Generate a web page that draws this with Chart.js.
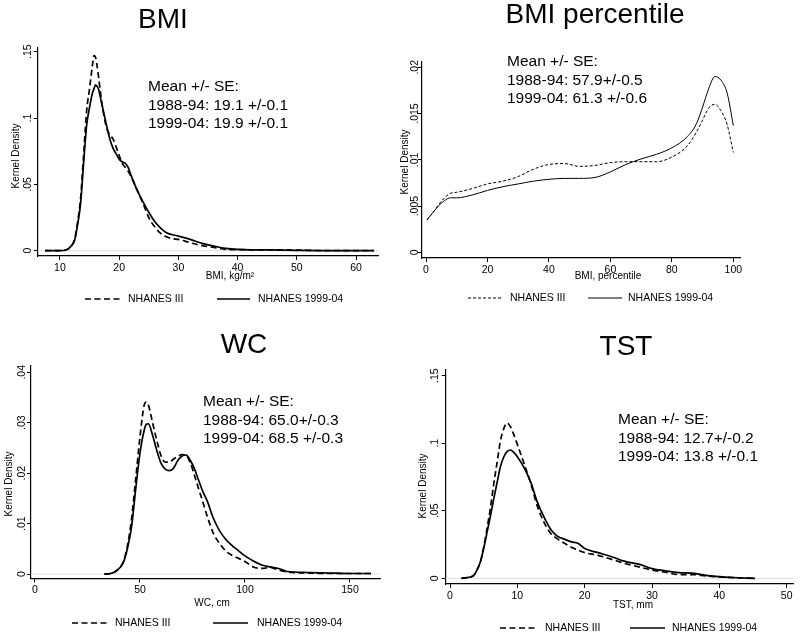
<!DOCTYPE html>
<html>
<head>
<meta charset="utf-8">
<script src="https://cdn.jsdelivr.net/npm/chart.js@4.4.1/dist/chart.umd.min.js"></script>
<style>
  body { margin: 0; background: #fff; }
  #wrap { position: relative; width: 800px; height: 636px; }
  canvas { position: absolute; }
</style>
</head>
<body>
<div id="wrap">
  <canvas id="c1" width="400" height="318" style="left:0;top:0;width:400px;height:318px"></canvas>
  <canvas id="c2" width="400" height="318" style="left:400px;top:0;width:400px;height:318px"></canvas>
  <canvas id="c3" width="400" height="318" style="left:0;top:318px;width:400px;height:318px"></canvas>
  <canvas id="c4" width="400" height="318" style="left:400px;top:318px;width:400px;height:318px"></canvas>
</div>
<script>
// series names
const seriesLabels = ['NHANES III', 'NHANES 1999-04'];

// BMI, kg/m2
const bmiX    = [7.5, 10, 11, 12, 12.5, 13, 13.5, 14, 14.5, 15, 15.5, 15.75, 16, 16.25, 16.5, 17, 17.5, 18, 18.5, 19, 19.5, 20, 20.5, 21, 21.5, 22, 23, 24, 25, 26, 27, 28, 29, 30, 32, 34, 36, 38, 40, 45, 50, 55, 63];
const bmiIII  = [0, 0, 0.0005, 0.004, 0.009, 0.022, 0.04, 0.072, 0.105, 0.122, 0.14, 0.147, 0.146, 0.14, 0.132, 0.114, 0.1, 0.091, 0.087, 0.084, 0.078, 0.072, 0.066, 0.063, 0.06, 0.056, 0.046, 0.036, 0.025, 0.018, 0.013, 0.0105, 0.009, 0.0085, 0.006, 0.0038, 0.0025, 0.001, 0.0008, 0.0006, 0.0005, 0, 0];
const bmi9904 = [0, 0, 0.0005, 0.004, 0.008, 0.02, 0.036, 0.066, 0.094, 0.108, 0.119, 0.122, 0.125, 0.124, 0.122, 0.112, 0.102, 0.092, 0.083, 0.077, 0.073, 0.069, 0.067, 0.066, 0.063, 0.057, 0.046, 0.037, 0.029, 0.022, 0.017, 0.0135, 0.012, 0.011, 0.0085, 0.0055, 0.0035, 0.0018, 0.001, 0.0006, 0.0003, 0.0001, 0];
const bmiXTicks = [10, 20, 30, 40, 50, 60];
const bmiYTicks = [0, 0.05, 0.1, 0.15];

// BMI percentile
const pctX    = [0.3, 2, 4, 6, 8, 10, 15, 20, 25, 30, 35, 40, 45, 50, 55, 60, 65, 70, 75, 80, 85, 88, 90, 92, 94, 96, 98, 100];
const pctIII  = [0.0035, 0.0042, 0.0051, 0.0059, 0.0064, 0.0065, 0.0069, 0.0074, 0.0077, 0.0082, 0.009, 0.0095, 0.0096, 0.0093, 0.0094, 0.0097, 0.0098, 0.0098, 0.0098, 0.0103, 0.0115, 0.013, 0.0143, 0.0156, 0.016, 0.0153, 0.0138, 0.0108];
const pct9904 = [0.0035, 0.0042, 0.005, 0.0056, 0.0059, 0.0059, 0.0062, 0.0067, 0.0071, 0.0074, 0.0077, 0.0079, 0.008, 0.008, 0.0081, 0.0087, 0.0095, 0.0101, 0.0106, 0.0113, 0.0125, 0.0139, 0.0157, 0.0177, 0.019, 0.0186, 0.0172, 0.0137];
const pctXTicks = [0, 20, 40, 60, 80, 100];
const pctYTicks = [0, 0.005, 0.01, 0.015, 0.02];

// WC, cm
const wcX    = [33, 36, 39, 42, 44, 46, 48, 50, 52, 53, 54, 56, 58, 60, 62, 64, 66, 68, 70, 72, 74, 76, 78, 80, 82, 85, 88, 91, 94, 97, 100, 104, 108, 112, 116, 120, 130, 140, 150, 160];
const wcIII  = [0, 0.0001, 0.0007, 0.0024, 0.0055, 0.011, 0.019, 0.0272, 0.0335, 0.0341, 0.0335, 0.03, 0.0265, 0.0235, 0.0222, 0.0222, 0.0228, 0.0233, 0.0237, 0.0235, 0.022, 0.0195, 0.0168, 0.0142, 0.0115, 0.008, 0.006, 0.0045, 0.0037, 0.0031, 0.0025, 0.0014, 0.0011, 0.0013, 0.0008, 0.0004, 0.0002, 0.0001, 0.0001, 0.0001];
const wc9904 = [0, 0.0001, 0.0007, 0.0022, 0.005, 0.0094, 0.017, 0.024, 0.0285, 0.0297, 0.0298, 0.0275, 0.0245, 0.022, 0.0208, 0.0205, 0.021, 0.0225, 0.0234, 0.0236, 0.0225, 0.0208, 0.0185, 0.0163, 0.0145, 0.011, 0.0085, 0.0068, 0.0056, 0.0046, 0.0036, 0.0026, 0.0018, 0.0014, 0.0011, 0.0005, 0.0003, 0.0002, 0.0001, 0.0001];
const wcXTicks = [0, 50, 100, 150];
const wcYTicks = [0, 0.01, 0.02, 0.03, 0.04];

// TST, mm
const tstX    = [1.7, 3, 3.5, 4, 4.5, 5, 5.5, 6, 6.5, 7, 7.5, 8, 8.5, 9, 9.5, 10, 11, 12, 13, 14, 15, 16, 17, 18, 19, 20, 22, 24, 26, 28, 30, 32, 34, 36, 38, 40, 42, 45.3];
const tstIII  = [0, 0.001, 0.002, 0.006, 0.012, 0.023, 0.037, 0.052, 0.07, 0.086, 0.102, 0.111, 0.115, 0.112, 0.106, 0.099, 0.085, 0.07, 0.053, 0.041, 0.033, 0.029, 0.026, 0.023, 0.021, 0.019, 0.017, 0.014, 0.011, 0.0085, 0.0062, 0.0045, 0.0028, 0.0028, 0.0018, 0.001, 0.0005, 0];
const tst9904 = [0, 0.001, 0.002, 0.006, 0.012, 0.022, 0.034, 0.046, 0.059, 0.071, 0.083, 0.09, 0.094, 0.095, 0.093, 0.09, 0.082, 0.071, 0.056, 0.045, 0.036, 0.031, 0.029, 0.027, 0.026, 0.022, 0.019, 0.016, 0.0125, 0.0105, 0.0072, 0.0055, 0.0042, 0.0038, 0.0022, 0.0012, 0.0006, 0];
const tstXTicks = [0, 10, 20, 30, 40, 50];
const tstYTicks = [0, 0.05, 0.1, 0.15];

const noteHead = 'Mean +/- SE:';
const bmiNote = [noteHead, '1988-94: 19.1 +/-0.1', '1999-04: 19.9 +/-0.1'];
const pctNote = [noteHead, '1988-94: 57.9+/-0.5', '1999-04: 61.3 +/-0.6'];
const wcNote  = [noteHead, '1988-94: 65.0+/-0.3', '1999-04: 68.5 +/-0.3'];
const tstNote = [noteHead, '1988-94: 12.7+/-0.2', '1999-04: 13.8 +/-0.1'];

const FONT = '"Liberation Sans", Arial, Helvetica, sans-serif';
const Y_W = 4, X_H = 20;

function fmtY(v) {
  if (v === 0) return '0';
  return String(Number(v.toPrecision(6))).replace(/^0\./, '.');
}

// draws titles, notes, rotated y labels, zero line and legend
const panelPlugin = {
  id: 'panel',
  beforeDatasetsDraw(chart) {
    const p = chart.options.plugins.panel;
    if (!p.zeroLine) return;
    const ctx = chart.ctx, a = chart.chartArea;
    const y = chart.scales.y.getPixelForValue(0);
    ctx.save();
    ctx.strokeStyle = '#dfe4ec';
    ctx.lineWidth = 1.2;
    ctx.beginPath();
    ctx.moveTo(a.left, y);
    ctx.lineTo(a.right, y);
    ctx.stroke();
    ctx.restore();
  },
  afterDraw(chart) {
    const p = chart.options.plugins.panel;
    const ctx = chart.ctx, a = chart.chartArea, ys = chart.scales.y;
    const ox = p.ox, oy = p.oy;
    ctx.save();
    ctx.fillStyle = '#000';

    // title
    ctx.font = '28px ' + FONT;
    ctx.textAlign = 'center';
    ctx.textBaseline = 'middle';
    ctx.fillText(p.title[0], p.title[1] - ox, p.title[2] - oy);

    // note
    ctx.font = '15.5px ' + FONT;
    ctx.textAlign = 'left';
    p.note.forEach((t, i) => ctx.fillText(t, p.noteX - ox, p.noteY - oy + i * 18.6));

    // x title
    ctx.font = '10px ' + FONT;
    ctx.textAlign = 'center';
    ctx.fillText(p.xTitle[0], p.xTitle[1] - ox, p.xTitle[2] - oy);

    // y title + y tick labels, rotated
    ctx.save();
    ctx.translate(p.yTitle[0] - ox, p.yTitle[1] - oy);
    ctx.rotate(-Math.PI / 2);
    ctx.fillText('Kernel Density', 0, 0);
    ctx.restore();
    ctx.font = '10.5px ' + FONT;
    ys.ticks.forEach(t => {
      ctx.save();
      ctx.translate(a.left - p.yTickOff, ys.getPixelForValue(t.value));
      ctx.rotate(-Math.PI / 2);
      ctx.fillText(fmtY(t.value), 0, 0);
      ctx.restore();
    });

    // legend
    ctx.font = '10.5px ' + FONT;
    ctx.textAlign = 'left';
    chart.data.datasets.forEach((ds, i) => {
      const L = p.legend[i];
      const y = p.legendY - oy;
      ctx.save();
      ctx.strokeStyle = '#000';
      ctx.lineWidth = ds.borderWidth;
      ctx.setLineDash(ds.borderDash || []);
      ctx.beginPath();
      ctx.moveTo(L[0] - ox, y);
      ctx.lineTo(L[1] - ox, y);
      ctx.stroke();
      ctx.restore();
      ctx.fillText(ds.label, L[2] - ox, y);
    });
    ctx.restore();
  }
};

function makePanel(id, cfg) {
  const W = 400, H = 318;
  const ar = cfg.area; // [left, top, right, bottom] in page px
  const mkSet = (ys, i) => ({
    label: seriesLabels[i],
    data: cfg.x.map((x, k) => ({ x: x, y: ys[k] })),
    borderColor: '#000',
    borderWidth: cfg.lw,
    borderDash: i === 0 ? cfg.dash : [],
    pointRadius: 0,
    fill: false,
    cubicInterpolationMode: 'monotone'
  });
  const axisCommon = {
    type: 'linear',
    border: { display: true, color: '#000', width: 1.2 },
    grid: { display: true, drawOnChartArea: false, drawTicks: true, tickLength: 4, color: '#000', lineWidth: 1 }
  };
  new Chart(document.getElementById(id), {
    type: 'line',
    data: { datasets: [mkSet(cfg.s1, 0), mkSet(cfg.s2, 1)] },
    plugins: [panelPlugin],
    options: {
      responsive: false,
      animation: false,
      layout: {
        padding: {
          left: ar[0] - cfg.ox - Y_W,
          top: ar[1] - cfg.oy,
          right: cfg.ox + W - ar[2],
          bottom: cfg.oy + H - ar[3] - X_H
        }
      },
      scales: {
        x: Object.assign({}, axisCommon, {
          position: 'bottom',
          min: cfg.xr[0], max: cfg.xr[1],
          afterBuildTicks: s => { s.ticks = cfg.xt.map(v => ({ value: v })); },
          afterFit: s => { s.height = X_H; },
          ticks: { color: '#000', padding: 2, font: { family: FONT, size: 10.5 }, maxRotation: 0, autoSkip: false }
        }),
        y: Object.assign({}, axisCommon, {
          position: 'left',
          min: cfg.yr[0], max: cfg.yr[1],
          afterBuildTicks: s => { s.ticks = cfg.yt.map(v => ({ value: v })); },
          afterFit: s => { s.width = Y_W; },
          ticks: { display: false }
        })
      },
      plugins: {
        legend: { display: false },
        tooltip: { enabled: false },
        panel: {
          ox: cfg.ox, oy: cfg.oy,
          title: cfg.title, note: cfg.note, noteX: cfg.noteX, noteY: cfg.noteY,
          xTitle: cfg.xTitle, yTitle: cfg.yTitle, yTickOff: cfg.yTickOff,
          legend: cfg.legend, legendY: cfg.legendY, zeroLine: cfg.zeroLine
        }
      }
    }
  });
}

makePanel('c1', {
  ox: 0, oy: 0, area: [38, 48, 378, 256],
  x: bmiX, s1: bmiIII, s2: bmi9904, xt: bmiXTicks, yt: bmiYTicks,
  xr: [6.3, 63.7], yr: [-0.004, 0.1528], lw: 1.7, dash: [6, 3.5], zeroLine: true,
  title: ['BMI', 163, 20], note: bmiNote, noteX: 148, noteY: 87,
  xTitle: ['BMI, kg/m\u00b2', 230, 276], yTitle: [16, 156], yTickOff: 10,
  legend: [[85, 120, 128], [217, 250, 258]], legendY: 299
});

makePanel('c2', {
  ox: 400, oy: 0, area: [421.7, 62, 740.7, 258],
  x: pctX, s1: pctIII, s2: pct9904, xt: pctXTicks, yt: pctYTicks,
  xr: [-1.4, 102.4], yr: [-0.0006, 0.02057], lw: 1, dash: [3, 2], zeroLine: false,
  title: ['BMI percentile', 595, 15], note: pctNote, noteX: 507, noteY: 62,
  xTitle: ['BMI, percentile', 608, 276], yTitle: [405.5, 162], yTickOff: 7,
  legend: [[468, 502, 510], [588, 622, 628]], legendY: 298
});

makePanel('c3', {
  ox: 0, oy: 318, area: [31, 366, 380, 578.3],
  x: wcX, s1: wcIII, s2: wc9904, xt: wcXTicks, yt: wcYTicks,
  xr: [-1.9, 164.3], yr: [-0.00085, 0.04125], lw: 1.7, dash: [6, 3.5], zeroLine: true,
  title: ['WC', 244, 345], note: wcNote, noteX: 203, noteY: 402,
  xTitle: ['WC, cm', 212, 603], yTitle: [9, 484], yTickOff: 9,
  legend: [[72, 107, 115], [213, 248, 257]], legendY: 623
});

makePanel('c4', {
  ox: 400, oy: 318, area: [445.7, 370, 793, 584],
  x: tstX, s1: tstIII, s2: tst9904, xt: tstXTicks, yt: tstYTicks,
  xr: [-0.64, 50.94], yr: [-0.0042, 0.1542], lw: 1.7, dash: [6, 3.5], zeroLine: true,
  title: ['TST', 626, 347], note: tstNote, noteX: 618, noteY: 420,
  xTitle: ['TST, mm', 633, 605], yTitle: [423, 486], yTickOff: 11,
  legend: [[500, 535, 545], [630, 665, 672]], legendY: 628
});
</script>
</body>
</html>
